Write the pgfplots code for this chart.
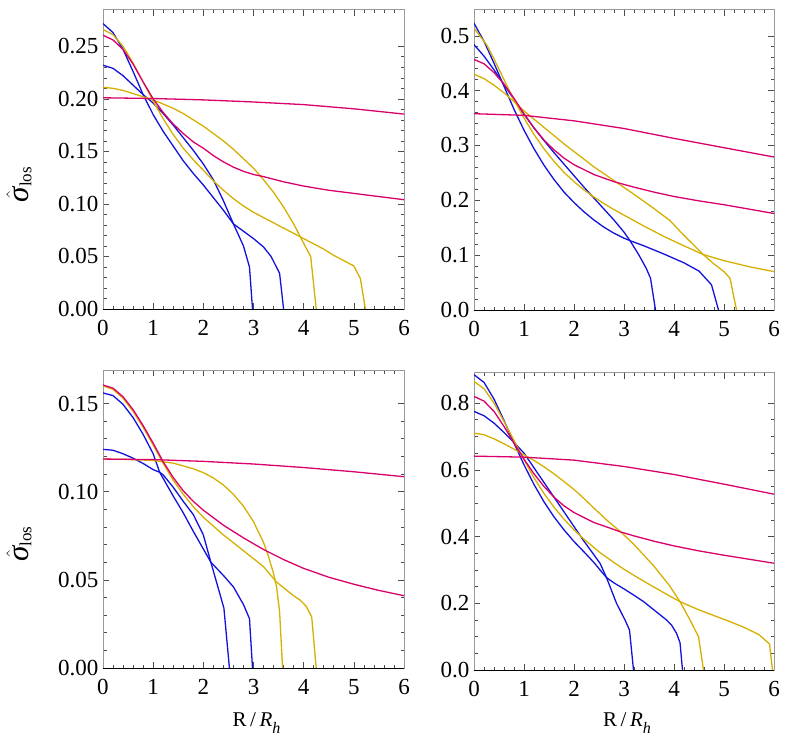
\documentclass[border=0pt]{standalone}
\usepackage{fontspec}
\setmainfont{Liberation Serif}
\usepackage{pgfplots}
\pgfplotsset{compat=1.18}
\definecolor{cblue}{RGB}{18,18,220}
\definecolor{cred}{RGB}{218,0,108}
\definecolor{cgold}{RGB}{214,176,0}
\pgfplotsset{
  panel/.style={
    scale only axis, anchor=south west,
    xmin=0, xmax=6, ymin=0,
    xtick={0,1,2,3,4,5,6}, minor x tick num=4,
    tick align=inside, tick pos=both,
    major tick length=6pt, minor tick length=3.5pt,
    every tick/.style={black!70, line width=0.6pt},
    axis line style={black!40, line width=0.9pt},
    tick label style={font=\fontsize{23}{27}\selectfont},
    /pgf/number format/assume math mode=true,
    xticklabel style={yshift=-8pt},
    yticklabel style={xshift=-1pt},
    scaled y ticks=false,
    no markers,
    every axis plot/.append style={line width=1.3pt, line join=round},
    after end axis/.code={\draw[black, line width=0.9pt] (rel axis cs:0,0) -- (rel axis cs:1,0);},
    every axis y label/.style={at={(axis description cs:-0.279,0.415)}, rotate=90, anchor=center},
  },
  p2/.style={yticklabel style={/pgf/number format/fixed, /pgf/number format/fixed zerofill, /pgf/number format/precision=2}},
  p1/.style={yticklabel style={/pgf/number format/fixed, /pgf/number format/fixed zerofill, /pgf/number format/precision=1}},
}
\newcommand{\sigmalabel}{{\fontsize{31}{34}\selectfont$\hat{\mbox{\itshape σ}}$}\raisebox{-0.25em}{\fontsize{17}{19}\selectfont los}}
\newcommand{\rlabel}{{\fontsize{21}{25}\selectfont R\,/\,\textit{R}\raisebox{-0.3em}{\fontsize{16}{17}\selectfont\itshape h}}}
\begin{document}
\begin{tikzpicture}
\path[use as bounding box] (0pt,0pt) rectangle (789pt,-740pt);
% ---------------- top left
\begin{axis}[panel, p2, at={(103pt,-309pt)}, width=301pt, height=299.5pt,
  ymax=0.285, ytick={0,0.05,0.1,0.15,0.2,0.25}, minor y tick num=4,
  ylabel={\sigmalabel}]
\addplot[cblue] coordinates {(0,0.2716) (0.2,0.263) (0.4,0.247) (0.6,0.226) (0.8,0.204) (1.0,0.185) (1.2,0.169) (1.4,0.155) (1.6,0.141) (1.8,0.129) (2.0,0.118) (2.2,0.106) (2.4,0.094) (2.6,0.081) (2.8,0.074) (3.0,0.067) (3.2,0.059) (3.35,0.050) (3.52,0.034) (3.6,0)};
\addplot[cblue] coordinates {(0,0.232) (0.2,0.229) (0.4,0.222) (0.6,0.213) (0.8,0.204) (1.0,0.196) (1.2,0.186) (1.4,0.175) (1.6,0.163) (1.8,0.151) (2.0,0.138) (2.2,0.123) (2.4,0.103) (2.6,0.081) (2.8,0.060) (2.92,0.040) (2.98,0)};
\addplot[cgold] coordinates {(0,0.266) (0.2,0.261) (0.4,0.250) (0.6,0.234) (0.8,0.216) (1.0,0.198) (1.2,0.181) (1.4,0.166) (1.6,0.153) (1.8,0.142) (2.0,0.132) (2.2,0.122) (2.4,0.113) (2.6,0.105) (2.8,0.098) (3.0,0.092) (3.2,0.087) (3.4,0.082) (3.6,0.077) (3.8,0.072) (4.0,0.067) (4.2,0.062) (4.4,0.057) (4.6,0.051) (4.8,0.046) (5.0,0.041) (5.13,0.029) (5.23,0)};
\addplot[cgold] coordinates {(0,0.211) (0.2,0.210) (0.4,0.208) (0.6,0.205) (0.8,0.202) (1.0,0.199) (1.2,0.195) (1.4,0.191) (1.6,0.186) (1.8,0.180) (2.0,0.174) (2.2,0.167) (2.4,0.160) (2.6,0.152) (2.8,0.143) (3.0,0.134) (3.2,0.123) (3.4,0.111) (3.6,0.097) (3.8,0.081) (3.93,0.069) (4.05,0.058) (4.14,0.050) (4.25,0)};
\addplot[cred] coordinates {(0,0.2605) (0.2,0.256) (0.4,0.247) (0.6,0.233) (0.8,0.216) (1.0,0.200) (1.2,0.187) (1.4,0.176) (1.6,0.167) (1.8,0.159) (2.0,0.153) (2.2,0.146) (2.4,0.140) (2.6,0.135) (2.8,0.131) (3.0,0.128) (3.2,0.126) (3.6,0.121) (4.0,0.117) (4.5,0.113) (5.0,0.110) (5.5,0.107) (6.0,0.104)};
\addplot[cred] coordinates {(0,0.201) (1,0.2003) (2,0.1990) (3,0.1970) (4,0.1945) (5,0.1905) (6,0.1855)};
\end{axis}
% ---------------- top right
\begin{axis}[panel, p1, at={(474pt,-310pt)}, width=300pt, height=300.5pt,
  ymax=0.548, ytick={0,0.1,0.2,0.3,0.4,0.5}, minor y tick num=4]
\addplot[cblue] coordinates {(0,0.523) (0.2,0.490) (0.4,0.450) (0.6,0.408) (0.8,0.366) (1.0,0.328) (1.2,0.294) (1.4,0.264) (1.6,0.238) (1.8,0.215) (2.0,0.196) (2.2,0.179) (2.4,0.164) (2.6,0.151) (2.8,0.140) (3.0,0.131) (3.12,0.1265) (3.4,0.117) (3.8,0.102) (4.2,0.086) (4.5,0.071) (4.75,0.046) (4.89,0)};
\addplot[cblue] coordinates {(0,0.484) (0.2,0.463) (0.4,0.438) (0.6,0.411) (0.8,0.384) (1.0,0.357) (1.2,0.332) (1.4,0.309) (1.6,0.287) (1.8,0.266) (2.0,0.245) (2.2,0.224) (2.4,0.204) (2.6,0.184) (2.8,0.164) (3.0,0.142) (3.12,0.1265) (3.3,0.100) (3.45,0.075) (3.53,0.058) (3.63,0)};
\addplot[cgold] coordinates {(0,0.514) (0.25,0.484) (0.4,0.458) (0.6,0.420) (0.8,0.383) (1.0,0.350) (1.2,0.320) (1.4,0.294) (1.6,0.271) (1.8,0.251) (2.0,0.234) (2.2,0.219) (2.4,0.206) (2.6,0.194) (2.8,0.183) (3.0,0.173) (3.4,0.153) (3.8,0.134) (4.2,0.117) (4.59,0.101) (5.0,0.090) (5.5,0.079) (6.0,0.070)};
\addplot[cgold] coordinates {(0,0.430) (0.2,0.422) (0.4,0.410) (0.6,0.396) (0.8,0.380) (1.0,0.363) (1.2,0.348) (1.4,0.333) (1.6,0.318) (1.8,0.303) (2.0,0.289) (2.4,0.261) (2.8,0.236) (3.2,0.211) (3.6,0.185) (3.92,0.163) (4.2,0.136) (4.4,0.118) (4.6,0.100) (4.8,0.084) (5.0,0.070) (5.12,0.058) (5.25,0)};
\addplot[cred] coordinates {(0,0.457) (0.2,0.449) (0.4,0.433) (0.6,0.412) (0.8,0.386) (1.0,0.358) (1.2,0.332) (1.4,0.310) (1.6,0.292) (1.8,0.277) (2.0,0.265) (2.4,0.247) (2.8,0.234) (3.2,0.224) (3.6,0.215) (4.0,0.207) (4.5,0.199) (5.0,0.192) (5.5,0.184) (6.0,0.176)};
\addplot[cred] coordinates {(0,0.358) (1,0.355) (2,0.345) (3,0.331) (4,0.313) (5,0.296) (6,0.279)};
\end{axis}
% ---------------- bottom left
\begin{axis}[panel, p2, at={(103pt,-668pt)}, width=301pt, height=298pt,
  ymax=0.169, ytick={0,0.05,0.1,0.15}, minor y tick num=4,
  ylabel={\sigmalabel}, xlabel={\rlabel},
  every axis x label/.style={at={(axis description cs:0.51,-0.197)}, anchor=base}]
\addplot[cblue] coordinates {(0,0.156) (0.2,0.1545) (0.4,0.1495) (0.6,0.1420) (0.8,0.1325) (1.0,0.1215) (1.13,0.111) (1.2,0.1075) (1.4,0.0975) (1.6,0.088) (1.8,0.0775) (2.0,0.0675) (2.15,0.060) (2.4,0.0525) (2.6,0.046) (2.8,0.036) (2.92,0.028) (2.98,0)};
\addplot[cblue] coordinates {(0,0.1240) (0.2,0.1235) (0.4,0.1215) (0.6,0.1190) (0.8,0.1160) (1.0,0.1125) (1.13,0.111) (1.2,0.1095) (1.4,0.1025) (1.6,0.0945) (1.8,0.0870) (2.0,0.0755) (2.15,0.060) (2.3,0.045) (2.41,0.034) (2.52,0)};
\addplot[cgold] coordinates {(0,0.1600) (0.2,0.1580) (0.4,0.1530) (0.6,0.1455) (0.8,0.1365) (1.0,0.1265) (1.2,0.1160) (1.4,0.1065) (1.6,0.0985) (1.8,0.0915) (2.0,0.0855) (2.4,0.0755) (2.8,0.0665) (3.2,0.0575) (3.45,0.049) (3.6,0.0455) (3.8,0.041) (3.93,0.0385) (4.05,0.035) (4.16,0.029) (4.25,0)};
\addplot[cgold] coordinates {(0,0.1185) (0.5,0.1183) (1.0,0.1177) (1.4,0.1162) (1.8,0.1130) (2.0,0.1108) (2.2,0.1078) (2.4,0.1038) (2.6,0.0985) (2.8,0.0918) (3.0,0.0830) (3.2,0.0712) (3.3,0.0632) (3.4,0.0535) (3.46,0.0460) (3.52,0.032) (3.58,0)};
\addplot[cred] coordinates {(0,0.1605) (0.2,0.1587) (0.4,0.1538) (0.6,0.1465) (0.8,0.1375) (1.0,0.1275) (1.2,0.1170) (1.4,0.1080) (1.6,0.1005) (1.8,0.0945) (2.0,0.0895) (2.4,0.0810) (2.8,0.0738) (3.2,0.0672) (3.6,0.0615) (4.0,0.0565) (4.5,0.0515) (5.0,0.0475) (5.5,0.0440) (6.0,0.0410)};
\addplot[cred] coordinates {(0,0.1185) (1,0.1182) (2,0.1172) (3,0.1157) (4,0.1137) (5,0.1113) (6,0.1085)};
\end{axis}
% ---------------- bottom right
\begin{axis}[panel, p1, at={(474pt,-670pt)}, width=300pt, height=297.3pt,
  ymax=0.891, ytick={0,0.2,0.4,0.6,0.8}, minor y tick num=3,
  xlabel={\rlabel},
  every axis x label/.style={at={(axis description cs:0.51,-0.191)}, anchor=base}]
\addplot[cblue] coordinates {(0,0.885) (0.2,0.862) (0.4,0.812) (0.6,0.748) (0.8,0.680) (1.0,0.615) (1.2,0.556) (1.4,0.504) (1.6,0.459) (1.8,0.420) (2.0,0.385) (2.2,0.354) (2.4,0.322) (2.52,0.300) (2.65,0.277) (2.8,0.261) (3.0,0.243) (3.19,0.225) (3.4,0.204) (3.6,0.180) (3.85,0.150) (3.95,0.135) (4.05,0.110) (4.12,0.082) (4.17,0)};
\addplot[cblue] coordinates {(0,0.775) (0.2,0.762) (0.4,0.740) (0.6,0.712) (0.8,0.682) (1.0,0.650) (1.2,0.606) (1.4,0.562) (1.6,0.518) (1.8,0.474) (2.0,0.430) (2.2,0.386) (2.4,0.345) (2.52,0.320) (2.65,0.277) (2.85,0.200) (3.02,0.150) (3.11,0.120) (3.19,0)};
\addplot[cgold] coordinates {(0,0.865) (0.2,0.843) (0.4,0.800) (0.6,0.745) (0.8,0.688) (1.0,0.630) (1.2,0.576) (1.4,0.529) (1.6,0.488) (1.8,0.452) (2.0,0.420) (2.2,0.392) (2.52,0.352) (2.8,0.322) (3.0,0.302) (3.25,0.279) (3.5,0.257) (3.91,0.222) (4.12,0.205) (4.5,0.180) (5.12,0.145) (5.4,0.128) (5.7,0.106) (5.91,0.078) (5.97,0)};
\addplot[cgold] coordinates {(0,0.710) (0.2,0.705) (0.4,0.693) (0.6,0.678) (0.8,0.662) (1.0,0.645) (1.2,0.628) (1.4,0.609) (1.6,0.588) (1.8,0.565) (2.0,0.541) (2.2,0.514) (2.4,0.485) (2.65,0.450) (2.95,0.412) (3.2,0.376) (3.6,0.311) (3.9,0.255) (4.12,0.205) (4.32,0.150) (4.49,0.100) (4.59,0)};
\addplot[cred] coordinates {(0,0.820) (0.2,0.806) (0.4,0.775) (0.6,0.730) (0.8,0.680) (1.0,0.632) (1.2,0.588) (1.4,0.550) (1.6,0.518) (1.8,0.492) (2.0,0.472) (2.4,0.442) (2.8,0.421) (2.95,0.413) (3.2,0.402) (3.6,0.386) (4.0,0.372) (4.5,0.357) (5.0,0.344) (5.5,0.332) (6.0,0.320)};
\addplot[cred] coordinates {(0,0.641) (1,0.638) (2,0.629) (3,0.610) (4,0.586) (5,0.557) (6,0.527)};
\end{axis}
\end{tikzpicture}
\end{document}
